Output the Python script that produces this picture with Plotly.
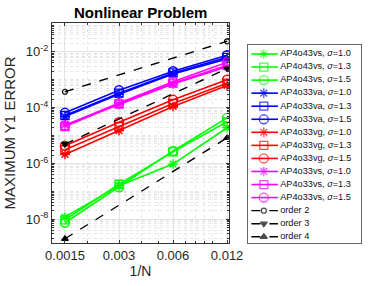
import numpy as np
import plotly.graph_objects as go

# ---------------- data ----------------
h = [0.0015, 0.003, 0.006, 0.012]
x_ticks = [0.0015, 0.003, 0.006, 0.012]
x_ticktext = ["0.0015", "0.003", "0.006", "0.012"]
y_ticks = [1e-8, 1e-6, 1e-4, 1e-2]
y_ticktext = ["10<sup>-8</sup>", "10<sup>-6</sup>", "10<sup>-4</sup>", "10<sup>-2</sup>"]

ap4o43vs_10 = [1.2e-8, 1.6e-7, 9.5e-7, 1.9e-5]
ap4o43vs_13 = [9.5e-9, 1.8e-7, 2.6e-6, 3.1e-5]
ap4o43vs_15 = [7.5e-9, 1.4e-7, 2.8e-6, 4.3e-5]

ap4o33va_10 = [4.8e-5, 3.0e-4, 1.6e-3, 5.5e-3]
ap4o33va_13 = [5.2e-5, 3.3e-4, 1.75e-3, 6.3e-3]
ap4o33va_15 = [6.5e-5, 4.2e-4, 2.0e-3, 7.5e-3]

ap4o33vg_10 = [2.1e-6, 1.5e-5, 1.1e-4, 6.2e-4]
ap4o33vg_13 = [3.1e-6, 2.1e-5, 1.4e-4, 7.5e-4]
ap4o33vg_15 = [4.3e-6, 3.0e-5, 1.9e-4, 1.0e-3]

ap4o33vs_10 = [2.4e-5, 1.3e-4, 7.0e-4, 2.9e-3]
ap4o33vs_13 = [2.1e-5, 1.35e-4, 7.5e-4, 3.3e-3]
ap4o33vs_15 = [2.3e-5, 1.45e-4, 8.5e-4, 4.2e-3]

h_ref = [0.0015, 0.012]
order2 = [3.7e-4, 2.37e-2]
order3 = [4.9e-6, 2.5e-3]
order4 = [2.0e-9, 8.2e-6]

labels = ["AP4o43vs, <i>σ</i>=1.0", "AP4o43vs, <i>σ</i>=1.3", "AP4o43vs, <i>σ</i>=1.5",
          "AP4o33va, <i>σ</i>=1.0", "AP4o33va, <i>σ</i>=1.3", "AP4o33va, <i>σ</i>=1.5",
          "AP4o33vg, <i>σ</i>=1.0", "AP4o33vg, <i>σ</i>=1.3", "AP4o33vg, <i>σ</i>=1.5",
          "AP4o33vs, <i>σ</i>=1.0", "AP4o33vs, <i>σ</i>=1.3", "AP4o33vs, <i>σ</i>=1.5",
          "order 2", "order 3", "order 4"]

# ---------------- styles ----------------
GREEN, BLUE, RED, MAG = "#00ff00", "#0000ff", "#ff0000", "#ff00ff"
sym = ["asterisk-open", "square-open", "circle-open"]
msize = [8, 8, 9]

series = [
    (ap4o43vs_10, GREEN, 0), (ap4o43vs_13, GREEN, 1), (ap4o43vs_15, GREEN, 2),
    (ap4o33va_10, BLUE, 0), (ap4o33va_13, BLUE, 1), (ap4o33va_15, BLUE, 2),
    (ap4o33vg_10, RED, 0), (ap4o33vg_13, RED, 1), (ap4o33vg_15, RED, 2),
    (ap4o33vs_10, MAG, 0), (ap4o33vs_13, MAG, 1), (ap4o33vs_15, MAG, 2),
]
refs = [(order2, "circle-open", 5), (order3, "triangle-down", 6), (order4, "triangle-up", 6)]

fig = go.Figure()
for vals, col, k in series:
    fig.add_trace(go.Scatter(
        x=h, y=vals, mode="lines+markers",
        line=dict(color=col, width=1.6),
        marker=dict(symbol=sym[k], size=msize[k], color=col, line=dict(color=col, width=1.4)),
        showlegend=False, xaxis="x", yaxis="y"))
for vals, s, ms in refs:
    fig.add_trace(go.Scatter(
        x=h_ref, y=vals, mode="lines+markers",
        line=dict(color="black", width=1.4, dash="dash"),
        marker=dict(symbol=s, size=ms, color="black", line=dict(color="black", width=1.2)),
        showlegend=False, xaxis="x", yaxis="y"))

# ---------------- custom legend (second axes) ----------------
leg_items = [(col, sym[k], msize[k], "solid", 1.6) for _, col, k in series] + \
            [("black", s, ms, "dash", 1.4) for _, s, ms in refs]
for i, (col, s, ms, dash, lw) in enumerate(leg_items):
    fig.add_trace(go.Scatter(
        x=[0.03, 0.14, 0.265], y=[i, i, i], mode="lines+markers",
        line=dict(color=col, width=lw, dash=dash),
        marker=dict(symbol=s, size=[0, ms, 0], color=col, line=dict(color=col, width=1.3)),
        showlegend=False, xaxis="x2", yaxis="y2", hoverinfo="skip"))
fig.add_trace(go.Scatter(
    x=[0.285] * len(labels), y=list(range(len(labels))), mode="text",
    text=labels, textposition="middle right",
    textfont=dict(family="Liberation Sans, Arial, sans-serif", size=9.2, color="#111111"),
    showlegend=False, xaxis="x2", yaxis="y2", hoverinfo="skip", cliponaxis=False))

# minor grid values
y_minor = [k * 10.0 ** n for n in range(-10, 0) for k in range(1, 10)
           if not any(abs(k * 10.0 ** n - t) / t < 1e-9 for t in y_ticks)]
x_minor = [k * 10.0 ** n for n in (-3, -2) for k in range(1, 10)]

FONT = "Liberation Sans, Arial, sans-serif"
AX = "#333333"

fig.update_layout(
    width=382, height=286,
    margin=dict(l=52, r=21, t=23, b=43, autoexpand=False),
    paper_bgcolor="white", plot_bgcolor="white",
    font=dict(family=FONT, color="#262626"),
    xaxis=dict(
        type="log", domain=[0, 0.5728], range=[np.log10(0.00127), np.log10(0.0123)],
        automargin=False,
        tickmode="array", tickvals=x_ticks, ticktext=x_ticktext,
        tickfont=dict(size=13, family=FONT, color="#262626"),
        ticks="inside", ticklen=3, tickcolor=AX,
        showline=True, linecolor=AX, linewidth=1, mirror="ticks",
        showgrid=True, gridcolor="#e3e3e3", gridwidth=1,
        minor=dict(tickmode="array", tickvals=x_minor, ticks="inside", ticklen=2,
                   tickcolor=AX, showgrid=True, gridcolor="#e6e6e6", griddash="dot"),
        zeroline=False,
        title=dict(text="1/N", font=dict(size=14, family=FONT, color="#262626"), standoff=2),
    ),
    yaxis=dict(
        type="log", range=[-8.85, -0.97],
        automargin=False,
        tickmode="array", tickvals=y_ticks, ticktext=y_ticktext,
        tickfont=dict(size=13, family=FONT, color="#262626"),
        ticks="inside", ticklen=3, tickcolor=AX,
        showline=True, linecolor=AX, linewidth=1, mirror="ticks",
        showgrid=True, gridcolor="#e3e3e3", gridwidth=1,
        minor=dict(tickmode="array", tickvals=y_minor, ticks="inside", ticklen=2,
                   tickcolor=AX, showgrid=True, gridcolor="#e6e6e6", griddash="dot"),
        zeroline=False,
        title=dict(text="MAXIMUM Y1 ERROR", font=dict(size=15, family=FONT, color="#262626"), standoff=6),
    ),
    xaxis2=dict(domain=[0.6343, 1.0], range=[0, 1], showgrid=False, zeroline=False,
                showticklabels=False, ticks="", showline=True, linecolor="#666666",
                linewidth=1, mirror=True, fixedrange=True, anchor="y2", automargin=False),
    yaxis2=dict(domain=[0.0, 0.9], range=[14.48, -0.69], showgrid=False, zeroline=False,
                showticklabels=False, ticks="", showline=True, linecolor="#666666",
                linewidth=1, mirror=True, fixedrange=True, anchor="x2", automargin=False),
    annotations=[dict(text="<b>Nonlinear Problem</b>", xref="paper", yref="paper",
                      x=0.2864, y=1.0, yshift=11, xanchor="center", yanchor="middle",
                      showarrow=False, font=dict(size=15, family=FONT, color="black"))],
)

fig.write_html("out.html", config={"displayModeBar": False},
               post_script="document.body.style.margin='0px';")
